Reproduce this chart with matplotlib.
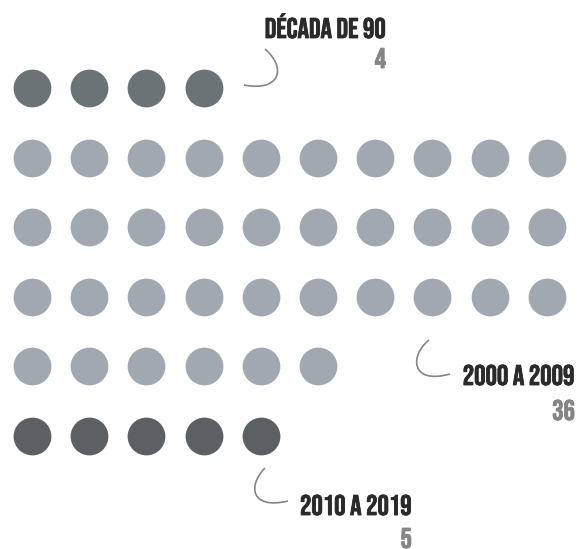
import matplotlib
matplotlib.use("Agg")
import matplotlib.pyplot as plt
import matplotlib.patheffects as pe
from matplotlib.path import Path
from matplotlib.patches import PathPatch

# data
groups = ["DÉCADA DE 90", "2000 A 2009", "2010 A 2019"]
counts = [4, 36, 5]
colors = ["#6c7377", "#a1a8af", "#5d6063"]

per_row = 10
x0, dx = 32, 57.2    # pixel grid
y0, dy = 88, 69.5

fig = plt.figure(figsize=(5.79, 5.49), dpi=100)
ax = fig.add_axes([0, 0, 1, 1])
ax.set_xlim(0, 579)
ax.set_ylim(549, 0)
ax.axis("off")

row = 0
for n, c in zip(counts, colors):
    xs, ys = [], []
    for i in range(n):
        xs.append(x0 + (i % per_row) * dx)
        ys.append(y0 + (row + i // per_row) * dy)
    ax.scatter(xs, ys, s=740, color=c, linewidths=0, zorder=2)
    row += (n - 1) // per_row + 1

# labels
font = ["Bebas Neue", "DejaVu Sans"]
labels = [(386, 38, 68), (575, 385, 420), (412, 515, 548)]
for g, n, (x, yt, yn) in zip(groups, counts, labels):
    ax.text(x, yt, g, ha="right", va="baseline", fontsize=20.5,
            color="#2a2a2a", family=font,
            path_effects=[pe.withStroke(linewidth=0.6, foreground="#2a2a2a")])
    ax.text(x, yn, str(n), ha="right", va="baseline", fontsize=20.5,
            color="#858585", family=font,
            path_effects=[pe.withStroke(linewidth=0.6, foreground="#858585")])

# hand-drawn connectors
curves = [
    [(265, 49), (287, 68), (280, 92), (244, 85)],
    [(429, 340), (410, 355), (410, 385), (450, 374)],
    [(265, 468), (248, 485), (250, 510), (288, 501)],
]
for pts in curves:
    p = Path(pts, [Path.MOVETO, Path.CURVE4, Path.CURVE4, Path.CURVE4])
    ax.add_patch(PathPatch(p, fill=False, edgecolor="#858585", lw=1.2))

fig.savefig("out.png", dpi=100)
